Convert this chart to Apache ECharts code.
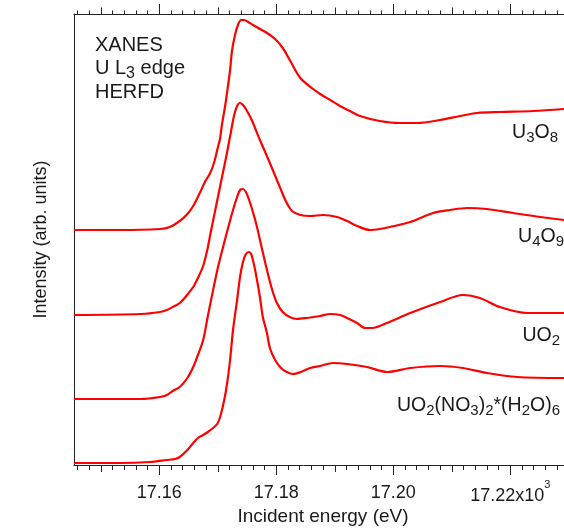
<!DOCTYPE html>
<html>
<head>
<meta charset="utf-8">
<script src="https://cdn.jsdelivr.net/npm/echarts@6/dist/echarts.min.js"></script>
<style>
html,body{margin:0;padding:0;background:#fff;}
#chart{width:564px;height:529px;}
</style>
</head>
<body>
<div id="chart"></div>
<script>
// ---- data (energy in keV, intensity in arbitrary units, curves offset vertically) ----
const energyU3O8 = [17.1454,17.1533,17.1601,17.1618,17.1635,17.1648,17.1658,17.1670,17.1678,17.1687,17.1694,17.1699,17.1704,17.1707,17.1712,17.1716,17.1721,17.1724,17.1729,17.1735,17.1740,17.1745,17.1752,17.1760,17.1769,17.1784,17.1798,17.1811,17.1823,17.1841,17.1863,17.1875,17.1892,17.1909,17.1926,17.1943,17.1977,17.2011,17.2041,17.2080,17.2114,17.2143,17.2182,17.2239,17.2292];
const intensityU3O8 = [2.35,2.35,2.36,2.38,2.44,2.51,2.59,2.73,2.83,2.92,3.03,3.15,3.27,3.40,3.57,3.73,3.95,4.13,4.29,4.41,4.45,4.45,4.43,4.40,4.37,4.32,4.26,4.17,4.05,3.87,3.76,3.71,3.65,3.59,3.54,3.49,3.44,3.42,3.42,3.45,3.49,3.52,3.53,3.54,3.56];

const energyU4O9 = [17.1454,17.1569,17.1601,17.1613,17.1623,17.1635,17.1646,17.1658,17.1666,17.1675,17.1682,17.1688,17.1695,17.1702,17.1709,17.1716,17.1723,17.1728,17.1733,17.1738,17.1743,17.1748,17.1758,17.1772,17.1789,17.1806,17.1817,17.1827,17.1841,17.1858,17.1880,17.1904,17.1921,17.1938,17.1960,17.1977,17.1994,17.2029,17.2068,17.2097,17.2126,17.2160,17.2205,17.2251,17.2292];
const intensityU4O9 = [1.50,1.51,1.53,1.55,1.58,1.62,1.69,1.78,1.87,1.99,2.15,2.33,2.53,2.73,2.93,3.13,3.35,3.50,3.59,3.62,3.60,3.56,3.45,3.25,3.02,2.78,2.63,2.54,2.50,2.49,2.50,2.48,2.44,2.39,2.35,2.36,2.38,2.43,2.52,2.55,2.57,2.56,2.52,2.48,2.45];

const energyUO2 = [17.1454,17.1569,17.1601,17.1613,17.1623,17.1635,17.1648,17.1658,17.1666,17.1675,17.1683,17.1692,17.1700,17.1709,17.1718,17.1726,17.1733,17.1738,17.1743,17.1748,17.1753,17.1760,17.1767,17.1776,17.1784,17.1793,17.1801,17.1811,17.1823,17.1835,17.1852,17.1875,17.1892,17.1909,17.1921,17.1938,17.1952,17.1964,17.1989,17.2029,17.2080,17.2119,17.2148,17.2182,17.2229,17.2292];
const intensityUO2 = [0.66,0.66,0.68,0.70,0.74,0.78,0.87,0.98,1.10,1.25,1.49,1.75,1.97,2.18,2.38,2.55,2.68,2.75,2.76,2.73,2.66,2.53,2.38,2.15,1.95,1.75,1.62,1.53,1.48,1.46,1.47,1.49,1.51,1.50,1.47,1.42,1.37,1.37,1.42,1.52,1.63,1.70,1.67,1.58,1.52,1.52];

const energyNitrate = [17.1454,17.1533,17.1584,17.1613,17.1627,17.1635,17.1648,17.1658,17.1666,17.1675,17.1683,17.1692,17.1699,17.1704,17.1711,17.1716,17.1721,17.1726,17.1733,17.1738,17.1743,17.1748,17.1753,17.1757,17.1762,17.1767,17.1772,17.1777,17.1784,17.1789,17.1798,17.1808,17.1818,17.1828,17.1842,17.1858,17.1875,17.1897,17.1921,17.1955,17.1989,17.2029,17.2080,17.2119,17.2160,17.2212,17.2292];
const intensityNitrate = [0.02,0.02,0.03,0.05,0.06,0.08,0.15,0.22,0.27,0.30,0.33,0.37,0.41,0.48,0.65,0.82,1.05,1.35,1.65,1.88,2.03,2.11,2.13,2.11,2.00,1.85,1.68,1.48,1.32,1.17,1.05,0.97,0.93,0.91,0.93,0.97,0.99,1.02,1.01,0.98,0.93,0.97,0.99,0.97,0.92,0.88,0.87];

const seriesNames = ['U3O8', 'U4O9', 'UO2', 'UO2(NO3)2*(H2O)6'];
const annotationLines = ['XANES', 'U L3 edge', 'HERFD'];
const tickValues = [17.16, 17.18, 17.20, 17.22];
const tickLabels = ['17.16', '17.18', '17.20', '17.22x10'];
const tickExponent = '3';
const xAxisTitle = 'Incident energy (eV)';
const yAxisTitle = 'Intensity (arb. units)';

// ---- styling ----
const FONT = '"Liberation Sans", Arial, Helvetica, sans-serif';
const AXIS_COLOR = '#222';
const TEXT_COLOR = '#1a1a1a';
const LINE_COLOR = '#ff0000';
const X_MIN = 17.14, X_MAX = 17.24;

function pairs(xs, ys) { return xs.map((x, i) => [x, ys[i]]); }

// digits become subscripts
function chemRich(str) {
  let out = '';
  for (const ch of str) {
    out += /[0-9]/.test(ch) ? '{s|' + ch + '}' : '{n|' + ch + '}';
  }
  return out;
}

function richStyles(main, sub, lh, drop) {
  return {
    n: { fontSize: main, lineHeight: lh, fontFamily: FONT, fill: TEXT_COLOR, color: TEXT_COLOR },
    s: { fontSize: sub, lineHeight: lh, fontFamily: FONT, fill: TEXT_COLOR, color: TEXT_COLOR, padding: [drop, 0, 0, 0] }
  };
}

function textEl(str, x, y, align, main, sub) {
  return {
    type: 'text', z: 110, silent: true,
    style: {
      x: x, y: y, text: chemRich(str),
      rich: richStyles(main, sub, 24, 10),
      align: align, textAlign: align,
      verticalAlign: 'middle', textVerticalAlign: 'middle',
      fill: TEXT_COLOR
    }
  };
}

const curves = [
  pairs(energyU3O8, intensityU3O8),
  pairs(energyU4O9, intensityU4O9),
  pairs(energyUO2, intensityUO2),
  pairs(energyNitrate, intensityNitrate)
];

const chart = echarts.init(document.getElementById('chart'), null, { renderer: 'canvas' });

const baseX = {
  type: 'value', min: X_MIN, max: X_MAX,
  splitLine: { show: false }, minorSplitLine: { show: false }
};

const option = {
  backgroundColor: '#fff',
  animation: false,
  grid: { left: 42.3, top: 14, width: 585, height: 451, containLabel: false, outerBoundsMode: 'none' },
  xAxis: [
    Object.assign({}, baseX, {
      position: 'bottom', interval: 0.02,
      axisLine: { show: true, onZero: false, lineStyle: { color: AXIS_COLOR, width: 1 } },
      axisTick: { show: true, inside: false, length: 10, lineStyle: { color: AXIS_COLOR, width: 1 } },
      minorTick: { show: true, splitNumber: 10, length: 5, lineStyle: { color: AXIS_COLOR, width: 1 } },
      axisLabel: {
        show: true, margin: 18, color: TEXT_COLOR, fontFamily: FONT, fontSize: 18,
        showMinLabel: false, showMaxLabel: false, hideOverlap: false,
        formatter: function (v) {
          for (let i = 0; i < tickValues.length; i++) {
            if (Math.abs(v - tickValues[i]) < 1e-6) {
              if (i === tickValues.length - 1) return '{b|' + tickLabels[i] + '}{e|' + tickExponent + '}';
              return '{a|' + tickLabels[i] + '}';
            }
          }
          return '';
        },
        rich: {
          a: { fontSize: 18, lineHeight: 20, fontFamily: FONT, color: TEXT_COLOR },
          b: { fontSize: 18, lineHeight: 20, fontFamily: FONT, color: TEXT_COLOR, padding: [6, 0, 0, 0] },
          e: { fontSize: 11, lineHeight: 20, fontFamily: FONT, color: TEXT_COLOR, padding: [0, 0, 16, 0] }
        }
      }
    }),
    Object.assign({}, baseX, {
      position: 'bottom', interval: 0.01,
      axisLine: { show: false, onZero: false },
      axisTick: { show: true, inside: false, length: 7, lineStyle: { color: AXIS_COLOR, width: 1 } },
      axisLabel: { show: false }
    }),
    Object.assign({}, baseX, {
      position: 'top', interval: 0.02,
      axisLine: { show: true, onZero: false, lineStyle: { color: AXIS_COLOR, width: 1 } },
      axisTick: { show: true, inside: false, length: 10, lineStyle: { color: AXIS_COLOR, width: 1 } },
      minorTick: { show: true, splitNumber: 10, length: 3.5, lineStyle: { color: AXIS_COLOR, width: 1 } },
      axisLabel: { show: false }
    }),
    Object.assign({}, baseX, {
      position: 'top', interval: 0.01,
      axisLine: { show: false, onZero: false },
      axisTick: { show: true, inside: false, length: 6.5, lineStyle: { color: AXIS_COLOR, width: 1 } },
      axisLabel: { show: false }
    })
  ],
  yAxis: {
    type: 'value', min: 0, max: 4.51, offset: -32,
    axisLine: { show: true, onZero: false, lineStyle: { color: AXIS_COLOR, width: 1 } },
    axisTick: { show: false }, axisLabel: { show: false }, splitLine: { show: false },
    name: yAxisTitle, nameLocation: 'middle', nameGap: 24, nameRotate: 90,
    nameTextStyle: { fontSize: 18, fontFamily: FONT, color: TEXT_COLOR }
  },
  series: curves.map((d, i) => ({
    name: seriesNames[i], type: 'line', xAxisIndex: 0, yAxisIndex: 0,
    data: d, showSymbol: false, symbol: 'none', smooth: 0.3,
    lineStyle: { color: LINE_COLOR, width: 2.2 }, itemStyle: { color: LINE_COLOR },
    z: 5
  })),
  graphic: [
    { type: 'rect', z: 100, silent: true, shape: { x: 10, y: 0, width: 63.5, height: 18 }, style: { fill: '#fff' } },
    { type: 'rect', z: 100, silent: true, shape: { x: 10, y: 461, width: 63.5, height: 24 }, style: { fill: '#fff' } },
    {
      type: 'text', z: 110, silent: true,
      style: {
        x: 323, y: 517, text: xAxisTitle,
        font: '19px ' + FONT, fontSize: 19, fontFamily: FONT, fill: TEXT_COLOR,
        align: 'center', textAlign: 'center', verticalAlign: 'middle', textVerticalAlign: 'middle'
      }
    },
    textEl(annotationLines[0], 95, 45, 'left', 20, 16),
    textEl(annotationLines[1], 95, 68.5, 'left', 20, 16),
    textEl(annotationLines[2], 95, 92.5, 'left', 20, 16),
    textEl(seriesNames[0], 558, 133, 'right', 19.5, 15),
    textEl(seriesNames[1], 564, 237, 'right', 19.5, 15),
    textEl(seriesNames[2], 560, 335.5, 'right', 19.5, 15),
    textEl(seriesNames[3], 560, 405.5, 'right', 19.5, 15)
  ]
};

chart.setOption(option);
</script>
</body>
</html>
